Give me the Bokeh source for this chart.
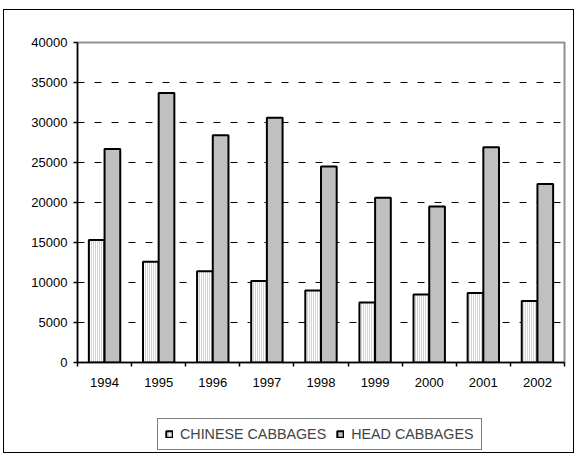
import numpy as np
from bokeh.plotting import figure
from bokeh.layouts import column
from bokeh.models import (Range1d, FixedTicker, NumeralTickFormatter, Legend, LegendItem,
                          ColumnDataSource)
from bokeh.embed import file_html
from bokeh.resources import INLINE

years = [1994, 1995, 1996, 1997, 1998, 1999, 2000, 2001, 2002]
chinese = [15300, 12600, 11400, 10200, 9000, 7500, 8500, 8700, 7700]
head = [26700, 33700, 28400, 30600, 24500, 20600, 19500, 26900, 22300]
y_ticks = [0, 5000, 10000, 15000, 20000, 25000, 30000, 35000, 40000]
series_names = ["CHINESE CABBAGES", "HEAD CABBAGES"]

FONT = "Liberation Sans"
bw = 0.29
yrs = np.array(years, dtype=float)

chinese_style = dict(fill_color="white", hatch_pattern="vertical_line", hatch_color="#a8a8a8",
                     hatch_scale=2, hatch_weight=1, line_color="black", line_width=2)
head_style = dict(fill_color="#c0c0c0", line_color="black", line_width=2)

p = figure(width=569, height=392, output_backend="svg", toolbar_location=None,
           x_range=Range1d(yrs[0] - 0.5, yrs[-1] + 0.5), y_range=Range1d(0, 40000),
           min_border_left=73, min_border_top=32, min_border_right=9, min_border_bottom=40)

src = ColumnDataSource(dict(xc=yrs - bw / 2, xh=yrs + bw / 2, chinese=chinese, head=head))
p.vbar(x="xc", top="chinese", width=bw, source=src, **chinese_style)
p.vbar(x="xh", top="head", width=bw, source=src, **head_style)

p.background_fill_color = "white"
p.border_fill_color = "white"
p.outline_line_color = "#909090"
p.outline_line_width = 2

p.xgrid.grid_line_color = None
p.ygrid.ticker = FixedTicker(ticks=y_ticks[1:-1])
p.ygrid.grid_line_color = "black"
p.ygrid.grid_line_dash = "7 10"
p.ygrid.grid_line_width = 1

p.xaxis.ticker = FixedTicker(ticks=years, minor_ticks=list(yrs - 0.5) + [yrs[-1] + 0.5])
p.xaxis.formatter = NumeralTickFormatter(format="0")
p.xaxis.major_tick_line_color = None
p.xaxis.minor_tick_out = 4
p.xaxis.minor_tick_in = 0
p.xaxis.minor_tick_line_color = "black"

p.yaxis.ticker = FixedTicker(ticks=y_ticks)
p.yaxis.major_tick_out = 4
p.yaxis.major_tick_in = 0
p.yaxis.minor_tick_line_color = None

for ax in (p.xaxis, p.yaxis):
    ax.axis_line_color = "black"
    ax.axis_line_width = 1.5
    ax.major_tick_line_width = 1.5
    ax.minor_tick_line_width = 1.5
    ax.major_label_text_font = FONT
    ax.major_label_text_font_size = "13px"
    ax.major_label_text_color = "black"
p.yaxis.major_label_standoff = 6
p.xaxis.major_label_standoff = 9

# legend strip below the chart (its frame is aligned with the chart's frame by the column);
# its renderers are hidden, so only the legend swatches show
lf = figure(width=569, height=50, output_backend="svg", toolbar_location=None,
            x_range=p.x_range, y_range=Range1d(0, 1),
            x_axis_type=None, y_axis_type=None,
            min_border_left=0, min_border_right=0, min_border_top=0, min_border_bottom=0)
lf.outline_line_color = None
lf.xgrid.grid_line_color = None
lf.ygrid.grid_line_color = None
lf.background_fill_color = "white"
lf.border_fill_color = "white"
g1 = lf.vbar(x="xc", top="chinese", width=bw, source=src, visible=False, **chinese_style)
g2 = lf.vbar(x="xh", top="head", width=bw, source=src, visible=False, **head_style)

legend = Legend(items=[LegendItem(label=series_names[0], renderers=[g1]),
                       LegendItem(label=series_names[1], renderers=[g2])],
                location=(80, 2), orientation="horizontal",
                label_text_font=FONT, label_text_font_size="14.3px",
                glyph_width=8, glyph_height=8, label_standoff=7, spacing=10,
                label_height=15, padding=7, margin=0,
                border_line_color="black", border_line_width=1,
                background_fill_color="white", inactive_fill_alpha=0)
lf.add_layout(legend, "center")

layout = column(p, lf, spacing=0,
                styles={"border": "1px solid black", "margin-left": "3px", "margin-top": "9px"})

open("out.html", "w").write(file_html(layout, INLINE))
